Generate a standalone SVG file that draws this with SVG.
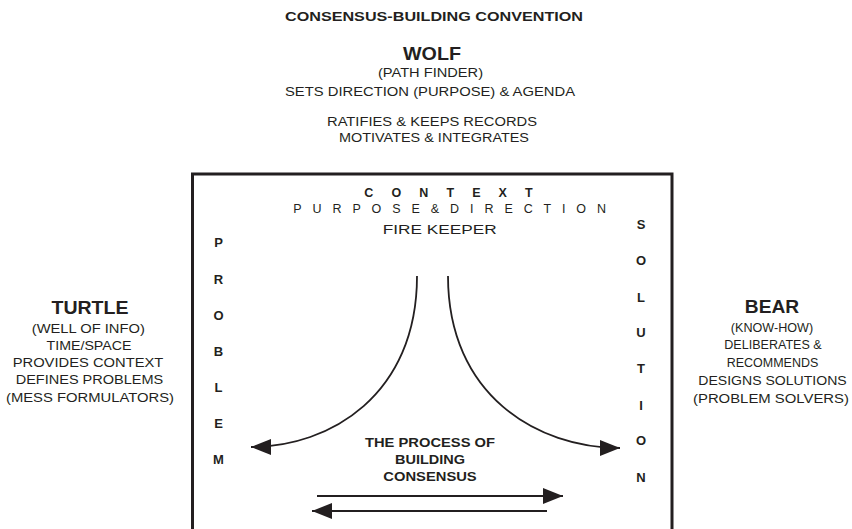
<svg xmlns="http://www.w3.org/2000/svg" width="852" height="529" viewBox="0 0 852 529">
<style>
text{font-family:"Liberation Sans",Arial,sans-serif;fill:#231f20;text-anchor:middle}
.b{font-weight:bold}
.r{font-size:12.5px}
.h{font-size:18.5px;font-weight:bold}
.l{font-size:13px;font-weight:bold}
.c{fill:none;stroke:#231f20;stroke-width:1.8}
</style>
<defs>
<marker id="ah" markerUnits="userSpaceOnUse" markerWidth="22" markerHeight="18" refX="20" refY="8" orient="auto">
<path d="M0,0 L20,8 L0,16 Z" fill="#231f20"/>
</marker>
</defs>
<rect width="852" height="529" fill="#fff"/>
<text class="b" x="434" y="20.5" font-size="13.5" textLength="298" lengthAdjust="spacingAndGlyphs">CONSENSUS-BUILDING CONVENTION</text>
<g id="wolf">
<text class="h" x="432" y="60" textLength="58" lengthAdjust="spacingAndGlyphs">WOLF</text>
<text class="r" x="430.5" y="77" textLength="105" lengthAdjust="spacingAndGlyphs">(PATH FINDER)</text>
<text class="r" x="430" y="95.5" textLength="290" lengthAdjust="spacingAndGlyphs">SETS DIRECTION (PURPOSE) &amp; AGENDA</text>
<text class="r" x="432" y="126" textLength="210" lengthAdjust="spacingAndGlyphs">RATIFIES &amp; KEEPS RECORDS</text>
<text class="r" x="434" y="141.7" textLength="190" lengthAdjust="spacingAndGlyphs">MOTIVATES &amp; INTEGRATES</text>
</g>
<g id="turtle">
<text class="h" x="90" y="314.3" textLength="77" lengthAdjust="spacingAndGlyphs">TURTLE</text>
<text class="r" x="88.3" y="332.7" textLength="113" lengthAdjust="spacingAndGlyphs">(WELL OF INFO)</text>
<text class="r" x="89" y="349.5" textLength="85" lengthAdjust="spacingAndGlyphs">TIME/SPACE</text>
<text class="r" x="88" y="366.7" textLength="150.6" lengthAdjust="spacingAndGlyphs">PROVIDES CONTEXT</text>
<text class="r" x="89.5" y="384.3" textLength="147.6" lengthAdjust="spacingAndGlyphs">DEFINES PROBLEMS</text>
<text class="r" x="90" y="402.3" textLength="168" lengthAdjust="spacingAndGlyphs">(MESS FORMULATORS)</text>
</g>
<g id="bear">
<text class="h" x="772" y="313.3" textLength="54.3" lengthAdjust="spacingAndGlyphs">BEAR</text>
<text class="r" x="772" y="331.7" textLength="82.3" lengthAdjust="spacingAndGlyphs">(KNOW-HOW)</text>
<text class="r" x="773" y="349.3" textLength="97.4" lengthAdjust="spacingAndGlyphs">DELIBERATES &amp;</text>
<text class="r" x="772.5" y="367.3" textLength="91.6" lengthAdjust="spacingAndGlyphs">RECOMMENDS</text>
<text class="r" x="772.5" y="385" textLength="148.4" lengthAdjust="spacingAndGlyphs">DESIGNS SOLUTIONS</text>
<text class="r" x="771" y="402.5" textLength="156" lengthAdjust="spacingAndGlyphs">(PROBLEM SOLVERS)</text>
</g>
<g id="context">
<path d="M192.5,529 V174 H672 V529" fill="none" stroke="#231f20" stroke-width="3"/>
<text class="b" x="448.5" y="197" font-size="12.5" textLength="168.4" lengthAdjust="spacing">C O N T E X T</text>
<text x="449.7" y="213.3" font-size="12.5" textLength="312.7" lengthAdjust="spacing">P U R P O S E &amp; D I R E C T I O N</text>
<text x="439.7" y="234" font-size="12.5" textLength="114" lengthAdjust="spacingAndGlyphs">FIRE KEEPER</text>
</g>
<g id="problem">
<text class="l" x="218.5" y="246.7">P</text>
<text class="l" x="218.5" y="284.3">R</text>
<text class="l" x="218.5" y="320">O</text>
<text class="l" x="218.5" y="356">B</text>
<text class="l" x="218.5" y="392.3">L</text>
<text class="l" x="218.5" y="428.3">E</text>
<text class="l" x="218.5" y="464">M</text>
</g>
<g id="solution">
<text class="l" x="641" y="228.5">S</text>
<text class="l" x="641" y="264.5">O</text>
<text class="l" x="641" y="301.5">L</text>
<text class="l" x="641" y="337">U</text>
<text class="l" x="641" y="373">T</text>
<text class="l" x="641" y="409.5">I</text>
<text class="l" x="641" y="445">O</text>
<text class="l" x="641" y="481.5">N</text>
</g>
<g id="process">
<text class="b" x="430" y="446.7" font-size="12" textLength="130" lengthAdjust="spacingAndGlyphs">THE PROCESS OF</text>
<text class="b" x="430" y="464" font-size="12" textLength="70" lengthAdjust="spacingAndGlyphs">BUILDING</text>
<text class="b" x="430" y="480.7" font-size="12" textLength="93.4" lengthAdjust="spacingAndGlyphs">CONSENSUS</text>
</g>
<g id="connectors">
<path class="c" d="M417,276 C417,395 330,447 251,447" marker-end="url(#ah)"/>
<path class="c" d="M448,276 C448,395 537,448 620,448" marker-end="url(#ah)"/>
<path class="c" stroke-width="2" d="M317,496 H563" marker-end="url(#ah)"/>
<path class="c" stroke-width="2" d="M547,511 H312" marker-end="url(#ah)"/>
</g>
</svg>
